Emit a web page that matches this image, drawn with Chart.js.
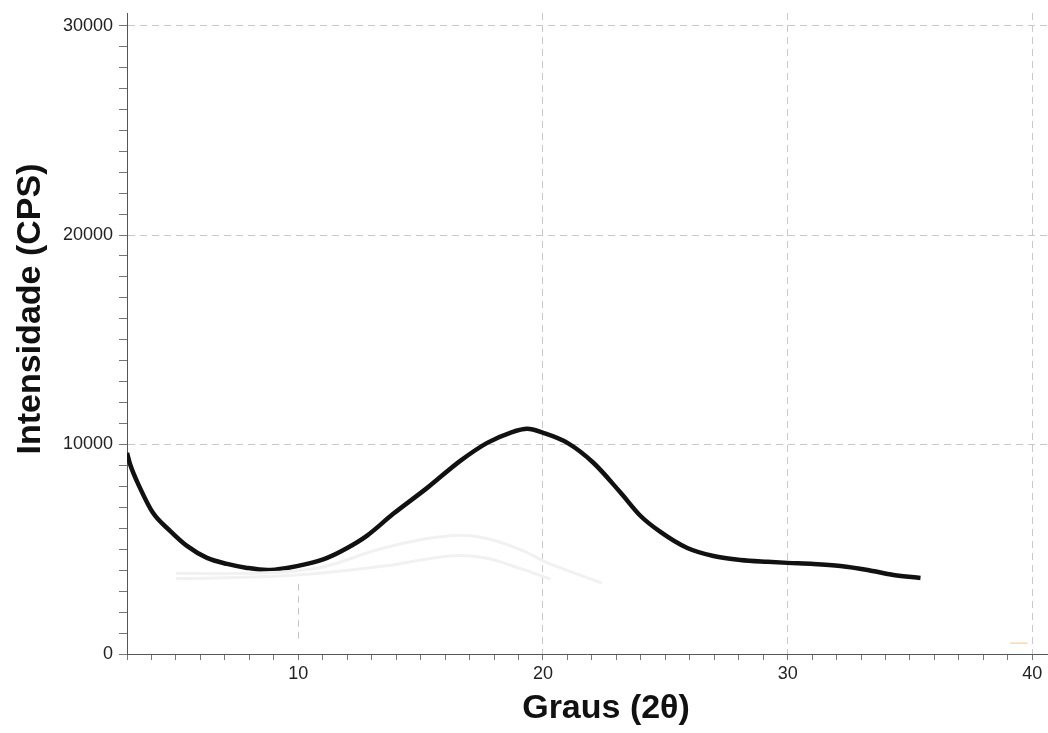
<!DOCTYPE html>
<html>
<head>
<meta charset="utf-8">
<title>Intensidade x Graus</title>
<script src="https://cdn.jsdelivr.net/npm/chart.js@4/dist/chart.umd.min.js"></script>
<style>
    html, body { margin: 0; padding: 0; background: #ffffff; }
    #chart-box { width: 1048px; height: 733px; }
</style>
</head>
<body>
<div id="chart-box"><canvas id="xrd-chart" width="1048" height="733"></canvas></div>
<script>
// Data (2theta in degrees, intensity in CPS)
const mainAngles = [3.0, 3.12, 3.53, 4.06, 4.76, 5.45, 6.27, 7.09, 7.91, 8.73, 9.54, 10.36, 11.18, 12.0, 12.8,
    13.88, 15.27, 16.62, 17.72, 18.66, 19.36, 20.01, 21.0, 22.06, 23.16, 23.98, 24.8, 25.9, 26.97, 28.07,
    29.18, 30.0, 31.06, 32.16, 33.27, 34.33, 35.43];
const mainCounts = [9600, 9080, 7930, 6740, 5880, 5160, 4590, 4300, 4110, 4010, 4110, 4300, 4590, 5060, 5640,
    6690, 7930, 9220, 10080, 10560, 10750, 10560, 10080, 9130, 7720, 6600, 5830, 5060, 4680, 4490,
    4400, 4350, 4300, 4200, 4010, 3770, 3630];

// Faint background traces
const ghostUpperAngles = [5.0, 8.0, 10.8, 13.5, 16.2, 17.6, 19.0, 20.3, 22.4];
const ghostUpperCounts = [3850, 3850, 4110, 5060, 5640, 5540, 5020, 4300, 3390];
const ghostLowerAngles = [5.0, 9.4, 13.5, 16.2, 17.6, 19.0, 20.3];
const ghostLowerCounts = [3600, 3730, 4200, 4680, 4590, 4110, 3580];

// Small orange mark near 40 degrees
const markAngles = [39.1, 39.8];
const markCounts = [520, 520];

// Axis ranges and ticks
const xMin = 3;
const xMax = 40.6;
const xMinorStep = 1;
const yMin = 0;
const yMax = 30600;
const yMinorStep = 1000;
const xLabelTicks = [10, 20, 30, 40];
const yLabelTicks = [0, 10000, 20000, 30000];
const xGridTicks = [20, 30, 40];          // 10 is drawn only partly
const yGridTicks = [10000, 20000, 30000];

const xTitle = 'Graus (2θ)';
const yTitle = 'Intensidade (CPS)';

const FONT = "'Liberation Sans', Arial, Helvetica, sans-serif";
const GRID_COLOR = '#c9c9c9';

function toPoints(xs, ys) {
    return xs.map((x, i) => ({ x: x, y: ys[i] }));
}

function stepTicks(min, max, step) {
    const ticks = [];
    for (let v = Math.ceil(min / step) * step; v <= max; v += step) {
        ticks.push({ value: v });
    }
    return ticks;
}

// the 10 degree grid line only shows below the traces
const partialGrid = {
    id: 'partialGrid',
    beforeDatasetsDraw(chart) {
        const xs = chart.scales.x;
        const ys = chart.scales.y;
        const ctx = chart.ctx;
        ctx.save();
        ctx.strokeStyle = GRID_COLOR;
        ctx.lineWidth = 1;
        ctx.setLineDash([7, 5]);
        ctx.beginPath();
        const px = Math.round(xs.getPixelForValue(10)) + 0.5;
        ctx.moveTo(px, ys.getPixelForValue(3350));
        ctx.lineTo(px, ys.getPixelForValue(570));
        ctx.stroke();
        ctx.restore();
    }
};

// axis titles, placed a little off-centre as in the original figure
const axisTitles = {
    id: 'axisTitles',
    afterDraw(chart) {
        const area = chart.chartArea;
        const ctx = chart.ctx;
        ctx.save();
        ctx.fillStyle = '#111111';
        ctx.font = "bold 34px " + FONT;
        ctx.textAlign = 'center';
        ctx.textBaseline = 'middle';
        ctx.fillText(xTitle, (area.left + area.right) / 2 + 19, 709);
        ctx.translate(31, 309);
        ctx.rotate(-Math.PI / 2);
        ctx.fillText(yTitle, 0, 0);
        ctx.restore();
    }
};

const ctx = document.getElementById('xrd-chart').getContext('2d');
const xrdChart = new Chart(ctx, {
    type: 'line',
    data: {
        datasets: [
            {
                label: 'fundo 1',
                data: toPoints(ghostUpperAngles, ghostUpperCounts),
                borderColor: '#f1f1f1',
                borderWidth: 3,
                pointRadius: 0,
                tension: 0.4
            },
            {
                label: 'fundo 2',
                data: toPoints(ghostLowerAngles, ghostLowerCounts),
                borderColor: '#f1f1f1',
                borderWidth: 3,
                pointRadius: 0,
                tension: 0.4
            },
            {
                label: 'marca',
                data: toPoints(markAngles, markCounts),
                borderColor: '#f2c48a',
                borderWidth: 1,
                pointRadius: 0
            },
            {
                label: 'Amostra',
                data: toPoints(mainAngles, mainCounts),
                borderColor: '#111111',
                borderWidth: 4.5,
                pointRadius: 0,
                cubicInterpolationMode: 'monotone'
            }
        ]
    },
    options: {
        responsive: false,
        animation: false,
        layout: {
            padding: { top: 13, right: 1, left: 0, bottom: 0 }
        },
        plugins: {
            legend: { display: false },
            tooltip: { enabled: false }
        },
        scales: {
            x: {
                type: 'linear',
                min: xMin,
                max: xMax,
                afterBuildTicks: (scale) => {
                    scale.ticks = stepTicks(xMin, xMax, xMinorStep);
                },
                afterFit: (scale) => {
                    scale.height = 79;
                    scale.paddingRight = 0;
                },
                ticks: {
                    autoSkip: false,
                    maxRotation: 0,
                    padding: 3,
                    color: '#222222',
                    font: { family: FONT, size: 18 },
                    callback: (value) => xLabelTicks.includes(value) ? String(value) : ''
                },
                grid: {
                    color: (c) => (c.tick && xGridTicks.includes(c.tick.value)) ? GRID_COLOR : 'transparent',
                    tickColor: '#777777',
                    tickLength: 6,
                    lineWidth: 1
                },
                border: { color: '#555555', width: 1, dash: [7, 5] },
                title: { display: false }
            },
            y: {
                type: 'linear',
                min: yMin,
                max: yMax,
                afterBuildTicks: (scale) => {
                    scale.ticks = stepTicks(yMin, yMax, yMinorStep);
                },
                afterFit: (scale) => {
                    scale.width = 127;
                    scale.paddingTop = 0;
                },
                ticks: {
                    autoSkip: false,
                    padding: 6,
                    color: '#222222',
                    font: { family: FONT, size: 18 },
                    callback: (value) => yLabelTicks.includes(value) ? String(value) : ''
                },
                grid: {
                    color: (c) => (c.tick && yGridTicks.includes(c.tick.value)) ? GRID_COLOR : 'transparent',
                    tickColor: '#777777',
                    tickLength: 8,
                    lineWidth: 1
                },
                border: { color: '#555555', width: 1, dash: [7, 5] },
                title: { display: false }
            }
        }
    },
    plugins: [partialGrid, axisTitles]
});
</script>
</body>
</html>
